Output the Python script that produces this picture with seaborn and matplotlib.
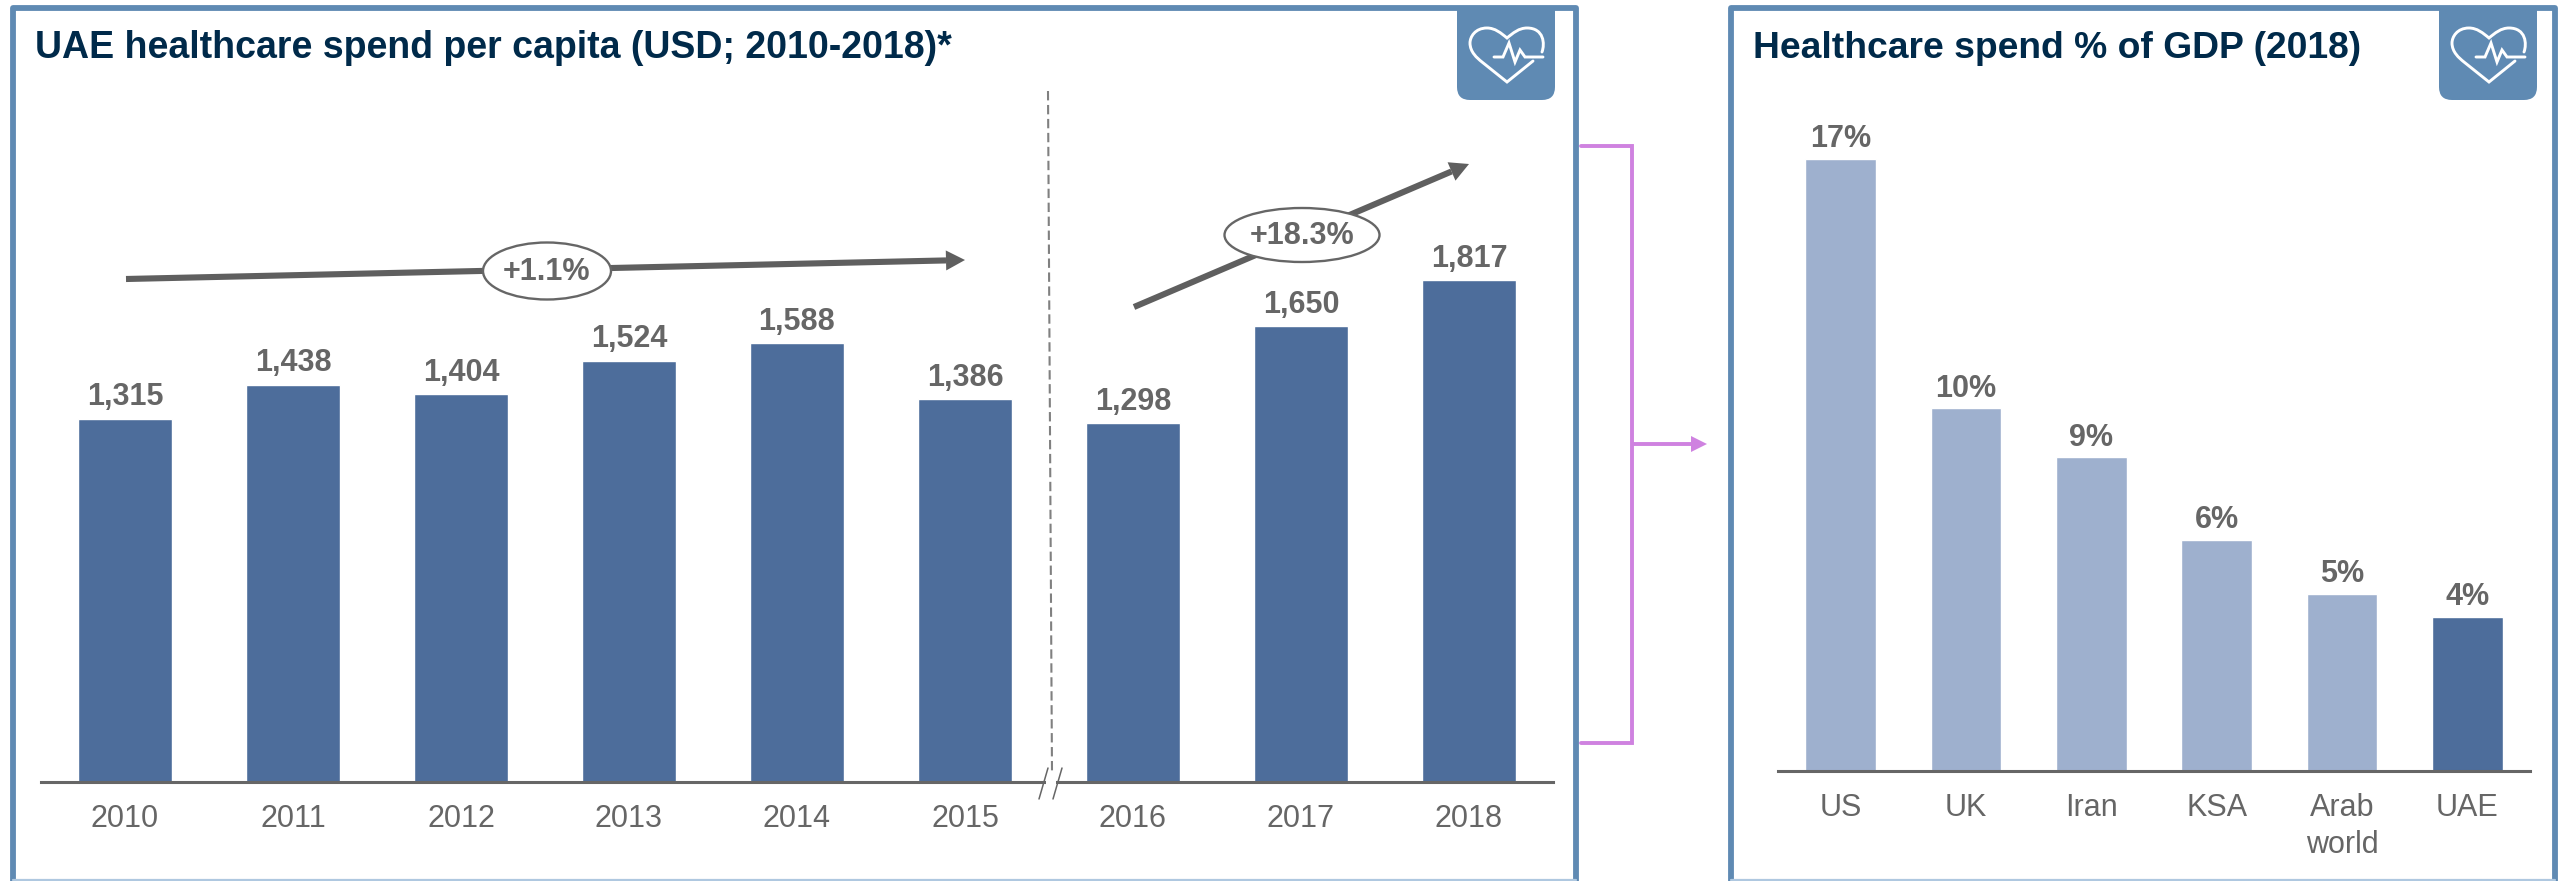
import numpy as np
import matplotlib
matplotlib.use("Agg")
import matplotlib.pyplot as plt
import seaborn as sns
import pandas as pd
from matplotlib.patches import Ellipse, FancyBboxPatch, Rectangle, PathPatch, Polygon
from matplotlib.path import Path

W, H = 2569, 881
years = ["2010", "2011", "2012", "2013", "2014", "2015", "2016", "2017", "2018"]
spend = [1315, 1438, 1404, 1524, 1588, 1386, 1298, 1650, 1817]
countries = ["US", "UK", "Iran", "KSA", "Arab\nworld", "UAE"]
gdp_share = [17.0, 10.08, 8.72, 6.42, 4.92, 4.28]
title_left = "UAE healthcare spend per capita (USD; 2010-2018)*"
title_right = "Healthcare spend % of GDP (2018)"
cagr_labels = ["+1.1%", "+18.3%"]

BAR = "#4D6D9B"
LIGHT = "#9EB0CE"
FRAME = "#5F8AB3"
NAVY = "#002A4A"
GREY = "#666666"
PURPLE = "#CF82E0"

sns.set_theme(style="white")
plt.rcParams["font.family"] = ["Liberation Sans", "DejaVu Sans"]

fig = plt.figure(figsize=(W / 100, H / 100), dpi=100, facecolor="white")


def add_axes(x0, x1, ytop, ybot):
    return fig.add_axes([x0 / W, 1 - ybot / H, (x1 - x0) / W, (ybot - ytop) / H])


ax1 = add_axes(41, 1553, 64, 782)
ax2 = add_axes(1778, 2530, 123, 771)

df1 = pd.DataFrame({"year": years, "spend": spend})
sns.barplot(data=df1, x="year", y="spend", color=BAR, saturation=1, width=0.56, ax=ax1)
ax1.set_ylim(0, 718 / (502 / 1817))
for i, v in enumerate(spend):
    ax1.annotate(f"{v:,}", (i, v), xytext=(0, 9.7), textcoords="offset points", ha="center",
                 va="baseline", fontsize=22, fontweight="bold", color=GREY)

df2 = pd.DataFrame({"country": countries, "share": gdp_share})
colors2 = [LIGHT] * 5 + [BAR]
sns.barplot(data=df2, x="country", y="share", hue="country", palette=colors2, legend=False,
            saturation=1, width=0.566, ax=ax2)
ax2.set_ylim(0, 18)
for i, v in enumerate(gdp_share):
    ax2.annotate(f"{v:.0f}%", (i, v), xytext=(0, 8.3), textcoords="offset points", ha="center",
                 va="baseline", fontsize=22, fontweight="bold", color=GREY)

for ax in (ax1, ax2):
    ax.set_xlabel("")
    ax.set_ylabel("")
    ax.set_yticks([])
    ax.patch.set_alpha(0)
    for s in ("top", "left", "right"):
        ax.spines[s].set_visible(False)
    ax.spines["bottom"].set_color(GREY)
    ax.spines["bottom"].set_linewidth(2.2)
    ax.tick_params(axis="x", length=0, pad=16, labelsize=22, labelcolor=GREY)
ax1.set_xlim(-0.5, 8.5)
ax2.set_xlim(-0.5, 5.5)
for lab in ax2.get_xticklabels():
    lab.set_linespacing(1.29)
    lab.set_va("top")

# Overlay in reference pixel coordinates for the slide furniture
ov = fig.add_axes([0, 0, 1, 1], zorder=5)
ov.set_xlim(0, W)
ov.set_ylim(H, 0)
ov.axis("off")

# Panel frames (bottom edge lighter, clipped by the image)
for x0, x1 in ((13, 1576), (1731, 2555)):
    ov.plot([x0, x0, x1, x1], [H + 5, 8, 8, H + 5], color=FRAME, lw=4.2, solid_joinstyle="round")
    ov.plot([x0, x1], [880, 880], color="#AFC8E0", lw=1.6)

# Icons
for x0, x1 in ((1457, 1555), (2439, 2537)):
    r = 13
    ov.add_patch(FancyBboxPatch((x0 + r, 8 + r), x1 - x0 - 2 * r, 100 - 8 - 2 * r,
                                boxstyle=f"round,pad={r},rounding_size={r}", fc=FRAME, ec="none"))
    ov.add_patch(Rectangle((x0, 8), x1 - x0, 40, fc=FRAME, ec="none"))
    cx = x0 + 50

    def P(dx, y):
        return (cx + dx, y)

    verts = [P(35, 52), P(38, 44), P(37, 28), P(20, 28),
             P(12, 28), P(6, 33), P(0, 38),
             P(-6, 33), P(-12, 28), P(-20, 28),
             P(-32, 28), P(-37, 37), P(-37, 43),
             P(-37, 52), P(-30, 58), P(-25, 62),
             P(0, 82), P(26, 61)]
    codes = [Path.MOVETO] + [Path.CURVE4] * 15 + [Path.LINETO] * 2
    ov.add_patch(PathPatch(Path(verts, codes), fc="none", ec="white", lw=2.1, capstyle="round",
                           joinstyle="miter"))
    pulse = [P(-13, 57), P(-4, 57), P(2, 43), P(8, 62), P(13, 50), P(18, 57), P(36, 57)]
    ov.plot(*zip(*pulse), color="white", lw=2.1, solid_joinstyle="miter")

# Titles
ov.text(35, 58, title_left, fontsize=27, fontweight="bold", color=NAVY, ha="left", va="baseline")
ov.text(1753, 58, title_right, fontsize=26.8, fontweight="bold", color=NAVY, ha="left", va="baseline")

# Divider and axis break
ov.plot([1048, 1052], [91, 772], color="#808080", lw=1.5, dashes=(4.5, 2.2))
ov.add_patch(Rectangle((1046, 778), 10, 8, fc="white", ec="none"))
for dx in (0, 14):
    ov.plot([1039 + dx, 1048 + dx], [799, 768], color=GREY, lw=1.1)


def head(x0, y0, x1, y1, length, half, color):
    d = np.array([x1 - x0, y1 - y0], dtype=float)
    d /= np.hypot(*d)
    n = np.array([-d[1], d[0]])
    tip = np.array([x1, y1], dtype=float)
    base = tip - d * length
    ov.add_patch(Polygon([tip, base + n * half, base - n * half], fc=color, ec="none"))
    return base


def trend(x0, y0, x1, y1, label, ex, ey, ew, eh):
    base = head(x0, y0, x1, y1, 19, 10, "#5F5F5F")
    ov.plot([x0, base[0]], [y0, base[1]], color="#5F5F5F", lw=4.4, solid_capstyle="butt")
    ov.add_patch(Ellipse((ex, ey), ew, eh, fc="white", ec=GREY, lw=1.7, zorder=6))
    ov.text(ex, ey + 1, label, fontsize=22, fontweight="bold", color=GREY, ha="center",
            va="center", zorder=7)


trend(126, 279, 965, 260, cagr_labels[0], 547, 271, 128, 57)
trend(1134, 307, 1469, 164, cagr_labels[1], 1302, 235, 155, 54)

# Purple bracket and arrow
ov.plot([1581, 1632, 1632, 1581], [146, 146, 743, 743], color=PURPLE, lw=2.8, solid_joinstyle="miter")
b = head(1632, 444, 1707, 444, 16, 8, PURPLE)
ov.plot([1632, b[0]], [444, 444], color=PURPLE, lw=2.8, solid_capstyle="butt")

fig.savefig("out.png", dpi=100, facecolor="white")
